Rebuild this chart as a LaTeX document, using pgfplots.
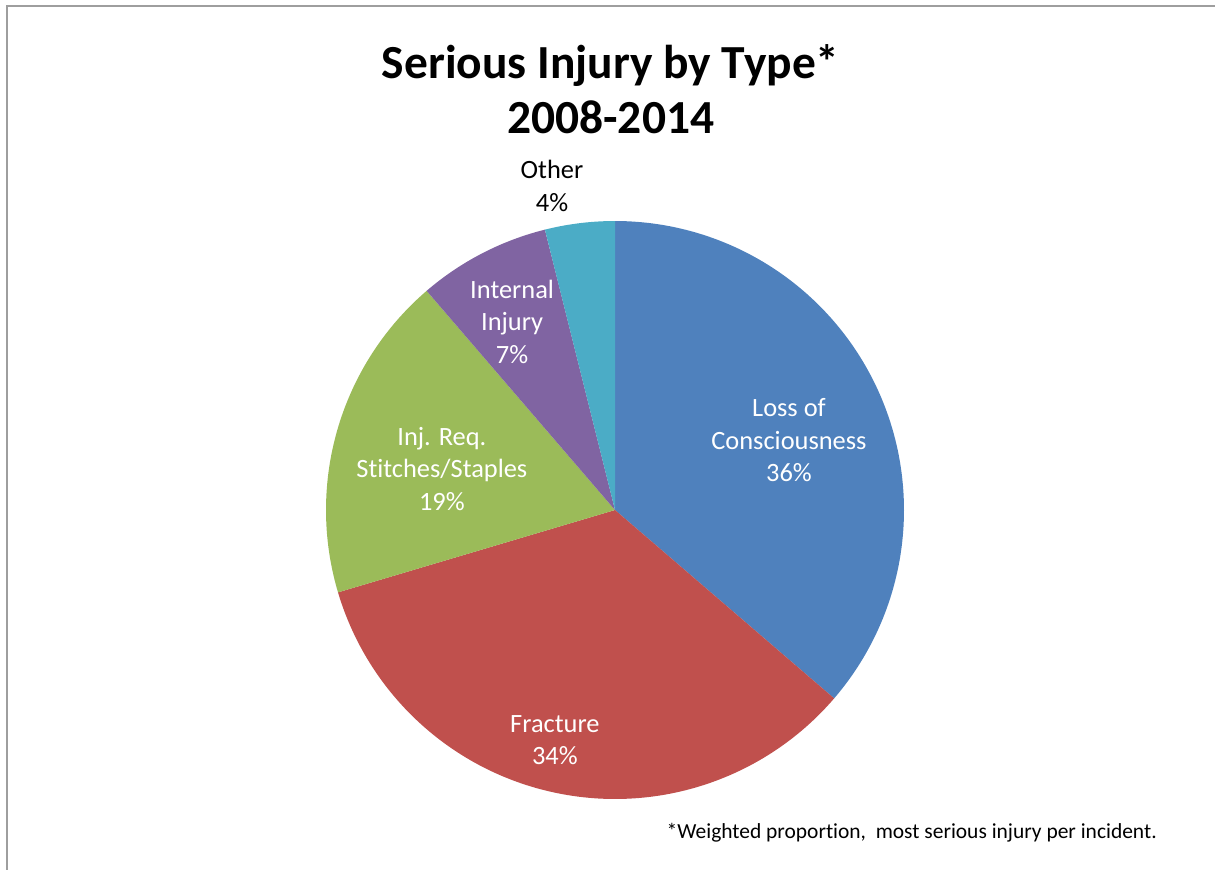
\documentclass[border=0pt]{standalone}
\usepackage{fontspec}
\setmainfont{Carlito}[Ligatures={NoCommon}]
\usepackage{pgfplots}
\pgfplotsset{compat=1.18}
\definecolor{cBlue}{HTML}{4F81BD}
\definecolor{cRed}{HTML}{C0504D}
\definecolor{cGreen}{HTML}{9BBB59}
\definecolor{cPurple}{HTML}{8064A2}
\definecolor{cCyan}{HTML}{4BACC6}
\begin{document}
\begin{tikzpicture}
% shares (percent) of each injury type
\def\vA{36.3}\def\vB{34.1}\def\vC{18.3}\def\vD{7.4}\def\vE{3.9}
\pgfmathsetmacro\tA{90-3.6*\vA}
\pgfmathsetmacro\tB{\tA-3.6*\vB}
\pgfmathsetmacro\tC{\tB-3.6*\vC}
\pgfmathsetmacro\tD{\tC-3.6*\vD}
\pgfmathsetmacro\tE{\tD-3.6*\vE}
\useasboundingbox (0,0) rectangle (911.25pt,651.75pt);
\draw[color=black!38, line width=1.6pt] (5.25pt,-20pt) -- (5.25pt,647.25pt) -- (940pt,647.25pt);
\node[font=\bfseries\fontsize{35.6}{41}\selectfont, align=center] at (458pt,585pt) {Serious Injury by Type*\\2008-2014};
\node[anchor=east, inner sep=0pt, font=\fontsize{16.1}{19}\selectfont] at (867.75pt,27pt) {*Weighted proportion,\ \ most serious injury per incident.};
\begin{axis}[at={(461.25pt,269.25pt)}, anchor=center, hide axis, scale only axis,
  width=433.5pt, height=433.5pt, xmin=-1, xmax=1, ymin=-1, ymax=1, clip=false]
\addplot[fill=cBlue, draw=none, domain=\tA:90, samples=120] ({cos(x)},{sin(x)}) -- (axis cs:0,0) -- cycle;
\addplot[fill=cRed, draw=none, domain=\tB:\tA, samples=120] ({cos(x)},{sin(x)}) -- (axis cs:0,0) -- cycle;
\addplot[fill=cGreen, draw=none, domain=\tC:\tB, samples=80] ({cos(x)},{sin(x)}) -- (axis cs:0,0) -- cycle;
\addplot[fill=cPurple, draw=none, domain=\tD:\tC, samples=40] ({cos(x)},{sin(x)}) -- (axis cs:0,0) -- cycle;
\addplot[fill=cCyan, draw=none, domain=\tE:\tD, samples=30] ({cos(x)},{sin(x)}) -- (axis cs:0,0) -- cycle;
\tikzset{lbl/.style={align=center, font=\fontsize{19.8}{24.4}\selectfont}}
\node[lbl, white] at (axis cs:0.602,0.242) {Loss of\\Consciousness\\36\%};
\node[lbl, white] at (axis cs:-0.208,-0.796) {Fracture\\34\%};
\node[lbl, white] at (axis cs:-0.599,0.142) {Inj. Req.\\Stitches/Staples\\19\%};
\node[lbl, white] at (axis cs:-0.356,0.651) {Internal\\Injury\\7\%};
\node[lbl, black] at (axis cs:-0.218,1.121) {Other\\4\%};
\end{axis}
\end{tikzpicture}
\end{document}
